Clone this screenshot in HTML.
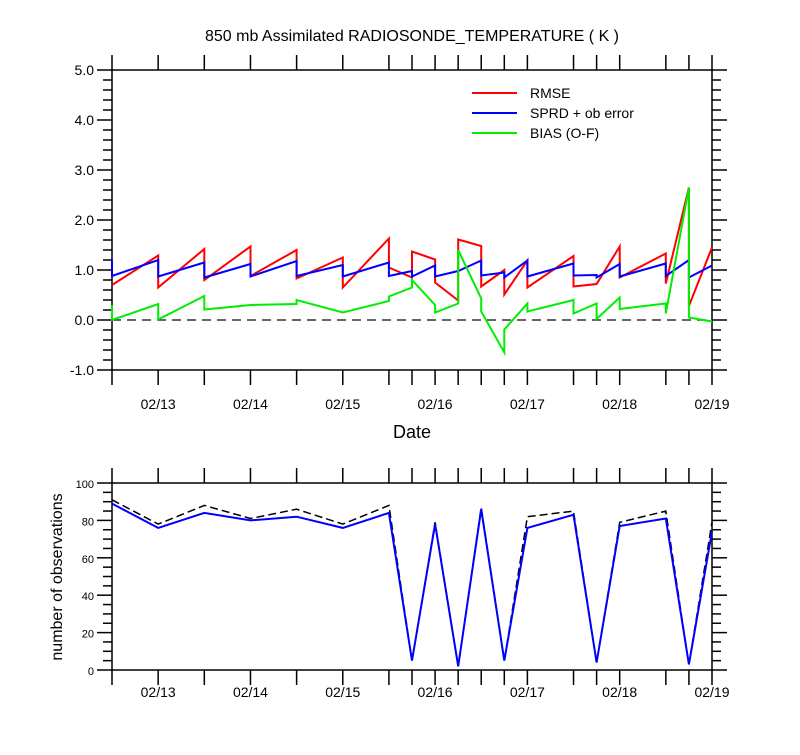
<!DOCTYPE html>
<html><head><meta charset="utf-8"><style>
body{margin:0;background:#fff;}
svg text{font-family:"Liberation Sans",sans-serif;fill:#000;}
</style></head><body>
<svg id="c" width="800" height="750" xmlns="http://www.w3.org/2000/svg">
<text x="412" y="41" font-size="16" text-anchor="middle">850 mb Assimilated RADIOSONDE_TEMPERATURE ( K )</text>
<text x="412" y="438" font-size="18" text-anchor="middle">Date</text>
<text transform="translate(62,577) rotate(-90)" font-size="16" text-anchor="middle">number of observations</text>
</svg>
<script>
const tickHours=[0,12,24,36,48,60,72,78,84,90,96,102,108,120,126,132,144,150,156];
const dateLabels=["02/13","02/14","02/15","02/16","02/17","02/18","02/19"];
const dateHours=[12,36,60,84,108,132,156];
const topYTicks=[-1,0,1,2,3,4,5];
const botYTicks=[0,20,40,60,80,100];
const times=[0,0,12,12,24,24,36,36,48,48,60,60,72,72,78,78,84,84,90,90,96,96,102,102,108,108,120,120,126,126,132,132,144,144,150,150,156];
const rmse=[0.70,0.70,1.29,0.65,1.42,0.80,1.47,0.88,1.40,0.83,1.25,0.65,1.63,1.05,0.85,1.37,1.21,0.75,0.39,1.61,1.48,0.67,1.00,0.51,1.19,0.65,1.28,0.67,0.72,0.72,1.47,0.85,1.33,0.73,2.65,0.28,1.45];
const sprd=[1.20,0.88,1.20,0.87,1.15,0.85,1.12,0.87,1.18,0.88,1.10,0.87,1.15,0.88,0.98,0.87,1.09,0.87,0.98,0.98,1.19,0.89,0.95,0.85,1.19,0.87,1.13,0.89,0.90,0.85,1.12,0.87,1.13,0.88,1.20,0.85,1.09];
const bias=[0.30,0.00,0.32,0.01,0.48,0.21,0.30,0.30,0.32,0.40,0.15,0.15,0.38,0.47,0.65,0.80,0.30,0.15,0.33,1.40,0.43,0.17,-0.65,-0.19,0.33,0.17,0.40,0.13,0.33,0.02,0.45,0.22,0.33,0.13,2.65,0.05,-0.03];
const obsTimes=[0,12,24,36,48,60,72,78,84,90,96,102,108,120,126,132,144,150,156];
const obsUsed=[89,76,84,80,82,76,84,5,78,2,86,5,76,83,4,77,81,3,74];
const obsTotal=[91,78,88,81,86,78,88,5,79,2,87,5,82,85,4,79,85,3,79];

const svg=document.getElementById('c');
const NS='http://www.w3.org/2000/svg';
function mk(tag,attrs){const e=document.createElementNS(NS,tag);for(const k in attrs)e.setAttribute(k,attrs[k]);svg.appendChild(e);return e;}
const X0=112,X1=712;
const xs=h=>X0+h*(X1-X0)/156;
const T0=70,T1=370; const yt=v=>T1-(v+1)*(T1-T0)/6;
const B0=483,B1=670; const yb=v=>B1-v*(B1-B0)/100;

function frame(top,bot,name){
  const r=mk('rect',{x:X0,y:top,width:X1-X0,height:bot-top,fill:'none',stroke:'#000','stroke-width':1.5});
  
  
  tickHours.forEach(h=>{
    const x=xs(h);
    const a=mk('line',{x1:x,x2:x,y1:top,y2:top-15,stroke:'#000','stroke-width':1.5});
    
    
    const b=mk('line',{x1:x,x2:x,y1:bot,y2:bot+15,stroke:'#000','stroke-width':1.5});
    
    
  });
}
function yTicks(ticks,minorStep,ys,top,bot,fmt){
  const lo=ticks[0],hi=ticks[ticks.length-1];
  for(let v=lo;v<=hi+1e-9;v+=minorStep){
    const y=ys(v);const major=ticks.some(t=>Math.abs(t-v)<1e-6);
    const len=major?15:9;
    [[X0,X0-len],[X1,X1+len]].forEach(p=>{
      const l=mk('line',{x1:p[0],x2:p[1],y1:y,y2:y,stroke:'#000','stroke-width':1.5});
      
      
    });
  }
  ticks.forEach(v=>{
    const t=mk('text',{x:X0-18,y:ys(v)+5,'font-size':fmt.size,'text-anchor':'end'});
    t.textContent=fmt.f(v);
    
    
  });
}
function dates(y,size){
  dateHours.forEach((h,i)=>{
    const t=mk('text',{x:xs(h),y:y,'font-size':size,'text-anchor':'middle'});
    t.textContent=dateLabels[i];
    
    
  });
}
function line(tx,vals,ys,color,w,name,dash){
  const pts=tx.map((h,i)=>xs(h).toFixed(1)+','+ys(vals[i]).toFixed(1)).join(' ');
  const a={points:pts,fill:'none',stroke:color,'stroke-width':w,'stroke-linejoin':'miter'};
  if(dash)a['stroke-dasharray']=dash;
  const p=mk('polyline',a);
  
  
}
// top
frame(T0,T1,'top-plot-frame');
yTicks(topYTicks,0.2,yt,T0,T1,{size:14,f:v=>v.toFixed(1)});
dates(409,14);
const zl=mk('line',{x1:X0,x2:X1,y1:yt(0),y2:yt(0),stroke:'#333','stroke-width':1.5,'stroke-dasharray':'9,6'});


line(times,rmse,yt,'#ff0000',2,'rmse-line');
line(times,sprd,yt,'#0000ff',2,'sprd-line');
line(times,bias,yt,'#00ee00',2,'bias-line');
[['RMSE','#ff0000',93],['SPRD + ob error','#0000ff',113],['BIAS (O-F)','#00ee00',133]].forEach(d=>{
  const l=mk('line',{x1:472,x2:517,y1:d[2],y2:d[2],stroke:d[1],'stroke-width':2});
  
  
  const t=mk('text',{x:530,y:d[2]+5,'font-size':14});
  t.textContent=d[0];
  
  
});
// bottom
frame(B0,B1,'bottom-plot-frame');
yTicks(botYTicks,5,yb,B0,B1,{size:11,f:v=>String(v)});
dates(697,14);
line(obsTimes,obsTotal,yb,'#000',1.5,'obs-total-line','8,4');
line(obsTimes,obsUsed,yb,'#0000ff',2,'obs-used-line');
</script>
</body></html>
